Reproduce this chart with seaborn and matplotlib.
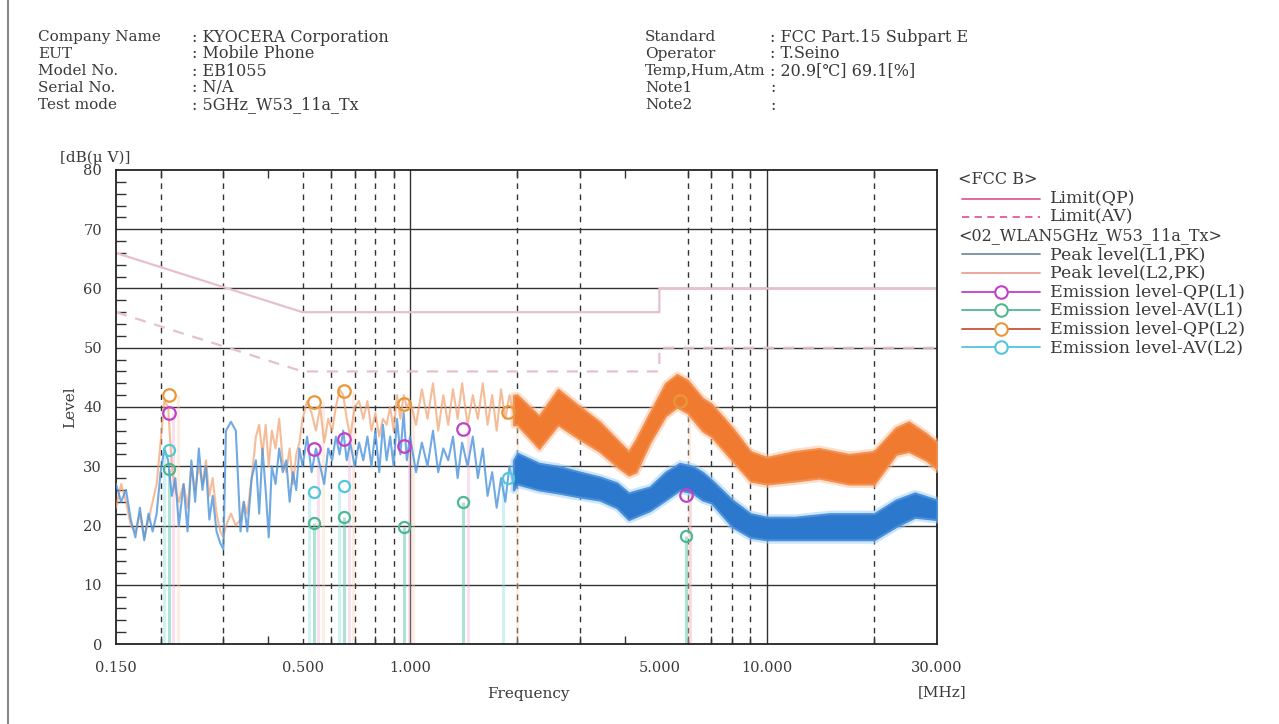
#! /usr/bin/env python3
'''
Conducted emission chart (FCC Part 15 B limits) for 5GHz W53 11a Tx
'''
import matplotlib
matplotlib.use("Agg")
import matplotlib.pyplot as plt
from matplotlib.lines import Line2D
from matplotlib.ticker import FixedLocator, NullFormatter
import seaborn as sns

# header info
HEAD_LEFT = [("Company Name", ": KYOCERA Corporation"), ("EUT", ": Mobile Phone"),
             ("Model No.", ": EB1055"), ("Serial No.", ": N/A"),
             ("Test mode", ": 5GHz_W53_11a_Tx")]
HEAD_RIGHT = [("Standard", ": FCC Part.15 Subpart E"), ("Operator", ": T.Seino"),
              ("Temp,Hum,Atm", ": 20.9[\u2103] 69.1[%]"), ("Note1", ":"), ("Note2", ":")]

# limits (MHz, dBuV)
LIM_F = [0.15, 0.5, 5.0, 5.0, 30.0]
LIM_QP = [66, 56, 56, 60, 60]
LIM_AV = [56, 46, 46, 50, 50]

# peak traces below 2 MHz (sparse sweep)
SUB_F = [0.150, 0.155, 0.160, 0.165, 0.170, 0.175, 0.180, 0.185, 0.190, 0.195, 0.200, 0.205,
         0.210, 0.215, 0.220, 0.225, 0.232, 0.238, 0.244, 0.250, 0.256, 0.262, 0.268, 0.274,
         0.280, 0.287, 0.294, 0.300, 0.305, 0.315, 0.325, 0.335, 0.342, 0.350, 0.360, 0.370,
         0.378, 0.386, 0.394, 0.402, 0.410, 0.420, 0.430, 0.440, 0.450, 0.460, 0.470, 0.480,
         0.490, 0.500, 0.515, 0.530, 0.545, 0.560, 0.575, 0.590, 0.605, 0.620, 0.635, 0.650,
         0.665, 0.680, 0.700, 0.720, 0.740, 0.760, 0.780, 0.800, 0.820, 0.840, 0.860, 0.880,
         0.900, 0.920, 0.940, 0.960, 0.980, 1.000, 1.04, 1.08, 1.12, 1.16, 1.20, 1.24, 1.28,
         1.32, 1.36, 1.40, 1.45, 1.50, 1.55, 1.60, 1.65, 1.70, 1.75, 1.80, 1.85, 1.90, 1.95]
SUB_L1 = [27, 24, 26, 21, 18, 23, 17.5, 22, 19, 22, 29, 33,
          31, 25, 28, 20, 27, 19, 31, 24, 33, 26, 30, 21,
          25, 19, 17, 16, 36, 37.5, 36, 19, 24, 19, 28, 31,
          22, 33, 26, 18, 30, 27, 33, 29, 31, 24, 29, 26,
          33, 30, 35, 29, 33, 30, 27, 33, 31, 35, 32, 36,
          31, 34, 30, 34, 31, 35, 30, 36, 29, 37, 31, 35,
          30, 38, 32, 39, 31, 35, 29, 34, 30, 36, 29, 33, 31,
          35, 28, 34, 30, 35, 28, 33, 25, 29, 23, 28, 24, 30, 27]
SUB_L2 = [23, 27, 24, 20, 19, 22, 18, 21, 24, 27, 34, 41,
          40, 30, 26, 24, 27, 23, 30, 26, 30, 27, 31, 25,
          28, 22, 19, 18, 20, 22, 20, 21, 24, 22, 28, 35,
          37, 32, 37, 30, 36, 33, 38, 31, 29, 33, 27, 32,
          34, 38, 41, 39, 36, 40, 34, 38, 36, 40, 43, 42,
          38, 35, 40, 41, 38, 41, 36, 39, 35, 38, 37, 40,
          36, 42, 38, 42, 40, 41, 37, 43, 38, 44, 36, 42, 37,
          43, 38, 44, 37, 42, 38, 44, 37, 42, 36, 43, 38, 42, 39]

# dense peak band 2-30 MHz (lower / upper envelope)
L1_BAND_F = [1.95, 2.0, 2.3, 2.6, 3.0, 3.4, 3.8, 4.1, 4.7, 5.2, 5.7, 6.2, 6.6, 7.0,
             8.0, 9.0, 10, 12, 15, 20, 23, 26, 30]
L1_LO = [26, 27, 26, 25.5, 24.8, 24.3, 23, 21, 22.5, 24.3, 26, 25.5, 24.3, 23.8,
         19.8, 18, 17.6, 17.6, 17.6, 17.6, 19.8, 21.4, 21]
L1_HI = [31, 32.2, 30.5, 30, 29, 28.2, 27.2, 25.5, 26.5, 29, 30.5, 30, 29, 27.7,
         24.3, 22, 21.4, 21.4, 22, 22, 24.3, 25.5, 24.3]
L2_BAND_F = [1.95, 2.0, 2.3, 2.6, 3.0, 3.4, 3.8, 4.1, 4.3, 4.7, 5.2, 5.6, 6.0, 6.6,
             7.0, 8.0, 9.0, 10, 12, 14, 17, 20, 23, 25, 28, 30]
L2_LO = [37, 37, 33, 37, 34.5, 32.5, 30, 28.5, 29, 34, 38.5, 40, 39, 36,
         35, 31, 27.5, 27, 27.5, 28, 27, 27, 32, 32.5, 31, 29.5]
L2_HI = [42, 42, 38.5, 43, 40, 37.5, 34.5, 32.5, 34.5, 39, 44, 45.5, 44.5, 41.5,
         40.5, 36.5, 32.5, 31.5, 32.5, 33, 32, 32.5, 36.5, 37.5, 35.5, 34]

# emission levels
QP_L1_F = [0.211, 0.538, 0.653, 0.962, 1.41, 5.93]
QP_L1 = [39.0, 32.9, 34.6, 33.4, 36.3, 25.2]
AV_L1_F = [0.211, 0.538, 0.653, 0.962, 1.41, 5.93]
AV_L1 = [29.5, 20.5, 21.5, 19.8, 23.9, 18.3]
QP_L2_F = [0.211, 0.538, 0.653, 0.962, 1.88, 5.7]
QP_L2 = [42.0, 40.8, 42.7, 40.5, 39.2, 41.0]
AV_L2_F = [0.211, 0.538, 0.653, 1.88]
AV_L2 = [32.7, 25.6, 26.6, 28.0]

X_TICKS = [0.15, 0.5, 1, 5, 10, 30]
X_LABELS = ["0.150", "0.500", "1.000", "5.000", "10.000", "30.000"]
GRID_DASHED = [0.2, 0.3, 0.5, 0.6, 0.7, 0.8, 0.9, 2, 3, 6, 7, 8, 9, 20]
GRID_SOLID = [1, 10]

W, H = 1279, 724
TXT = '#3a3a3a'

sns.set_theme(style="white")
plt.rcParams['font.family'] = ['DejaVu Serif']

fig = plt.figure(figsize=(W / 100, H / 100), dpi=100)
ax = fig.add_axes([116 / W, 1 - 644 / H, (937 - 116) / W, (644 - 170) / H])
ax.set_xscale('log')

# grid
for y in range(10, 80, 10):
    ax.axhline(y, color='#333333', lw=1.0, zorder=1)
for f in GRID_DASHED:
    ax.axvline(f, color='#333333', lw=1.0, ls=(0, (4, 4)), zorder=1)
for f in GRID_SOLID:
    ax.axvline(f, color='#333333', lw=1.0, zorder=1)

# limits
sns.lineplot(x=LIM_F, y=LIM_QP, ax=ax, estimator=None, sort=False, color='#e6c0ca', lw=1.6, zorder=2)
sns.lineplot(x=LIM_F, y=LIM_AV, ax=ax, estimator=None, sort=False, color='#e6c0ca', lw=1.6,
             dashes=False, linestyle=(0, (5, 4)), zorder=2)

# stems of the emission levels
ax.vlines(AV_L1_F, 0, AV_L1, colors='#5cc8a8', lw=2.2, alpha=0.5, zorder=2)
ax.vlines([f * 1.03 for f in QP_L1_F], 0, QP_L1, colors='#f0a8d0', lw=2.2, alpha=0.35, zorder=2)
ax.vlines([f * 0.97 for f in AV_L2_F], 0, AV_L2, colors='#8ee0e8', lw=2.2, alpha=0.4, zorder=2)
ax.vlines([f * 1.06 for f in QP_L2_F], 0, QP_L2, colors='#f8d0b0', lw=2.2, alpha=0.35, zorder=2)

# peak traces, sparse part
sns.lineplot(x=SUB_F, y=SUB_L2, ax=ax, estimator=None, sort=False, color='#f2a070', lw=1.5, alpha=0.7, zorder=3)
sns.lineplot(x=SUB_F, y=SUB_L1, ax=ax, estimator=None, sort=False, color='#4c94dc', lw=1.5, alpha=0.8, zorder=3)

# peak traces, dense part (soft halo + core)
ax.fill_between(L2_BAND_F, L2_LO, L2_HI, color='#f6a070', edgecolor='#f9c09a', lw=5, alpha=0.5, zorder=3)
ax.fill_between(L2_BAND_F, L2_LO, L2_HI, color='#f07a30', edgecolor='#f39050', lw=1.5, zorder=3)
ax.fill_between(L1_BAND_F, L1_LO, L1_HI, color='#5aa0e4', edgecolor='#9ccdf2', lw=5, alpha=0.5, zorder=3)
ax.fill_between(L1_BAND_F, L1_LO, L1_HI, color='#2b78cc', edgecolor='#4a90da', lw=1.5, zorder=3)

# emission markers
ax.plot(QP_L1_F, QP_L1, 'o', mfc='none', mec='#c040c8', ms=9, mew=1.6, zorder=5)
ax.plot(AV_L1_F, AV_L1, 'o', mfc='none', mec='#50b890', ms=8, mew=1.6, zorder=5)
ax.plot(QP_L2_F, QP_L2, 'o', mfc='none', mec='#e89838', ms=9, mew=1.6, zorder=5)
ax.plot(AV_L2_F, AV_L2, 'o', mfc='none', mec='#50c8d8', ms=8, mew=1.6, zorder=5)

# axes
ax.set_xlim(0.15, 30)
ax.set_ylim(0, 80)
ax.xaxis.set_major_locator(FixedLocator(X_TICKS))
ax.set_xticklabels(X_LABELS)
ax.xaxis.set_minor_locator(FixedLocator([0.2, 0.3, 0.4, 0.5, 0.6, 0.7, 0.8, 0.9,
                                         2, 3, 4, 5, 6, 7, 8, 9, 20]))
ax.xaxis.set_minor_formatter(NullFormatter())
ax.set_yticks(range(0, 81, 10))
ax.yaxis.set_minor_locator(FixedLocator(range(0, 81, 2)))
ax.tick_params(axis='x', which='major', length=0, pad=12, labelsize=10.5, labelcolor=TXT)
ax.tick_params(axis='x', which='minor', direction='in', length=6, width=1.0,
               bottom=True, top=True, color='#333333')
ax.tick_params(axis='y', which='major', length=0, pad=10, labelsize=10.5, labelcolor=TXT)
ax.tick_params(axis='y', which='minor', direction='in', length=7, width=1.0,
               left=True, color='#333333')
for s in ax.spines.values():
    s.set_color('#222222')
    s.set_linewidth(1.3)
    s.set_visible(True)
ax.set_xlabel("")
ax.set_ylabel("")

# header
def ftext(x, y, s, **kw):
    kw.setdefault('fontsize', 11.5)
    kw.setdefault('color', TXT)
    fig.text(x / W, 1 - y / H, s, va='center', **kw)

for i, (k, v) in enumerate(HEAD_LEFT):
    ftext(38, 37 + i * 17, k, fontsize=11)
    ftext(192, 37 + i * 17, v)
for i, (k, v) in enumerate(HEAD_RIGHT):
    ftext(645, 37 + i * 17, k, fontsize=11)
    ftext(770, 37 + i * 17, v)

ftext(60, 158, "[dB(\u03bc V)]", fontsize=11)
ftext(70, 407, "Level", rotation=90, ha='center', fontsize=11)
ftext(528, 694, "Frequency", ha='center', fontsize=11)
ftext(918, 692, "[MHz]", fontsize=11)

# legend
LEG = [("hdr", "<FCC B>", None), ("line", "Limit(QP)", '#e05a9a'), ("dash", "Limit(AV)", '#e05a9a'),
       ("hdr", "<02_WLAN5GHz_W53_11a_Tx>", None),
       ("line", "Peak level(L1,PK)", '#7090a8'), ("line", "Peak level(L2,PK)", '#e8a090'),
       ("mark", "Emission level-QP(L1)", '#c040c8'), ("mark", "Emission level-AV(L1)", '#50b890'),
       ("mark", "Emission level-QP(L2)", '#e89838'), ("mark", "Emission level-AV(L2)", '#50c8d8')]
line_cols = {"Emission level-QP(L2)": '#c85040'}
for i, (kind, label, col) in enumerate(LEG):
    y = 180 + i * 18.6
    if kind == "hdr":
        ftext(958, y, label)
        continue
    yy = 1 - y / H
    ls = (0, (4, 3)) if kind == "dash" else '-'
    lc = line_cols.get(label, col)
    fig.add_artist(Line2D([962 / W, 1040 / W], [yy, yy], color=lc, lw=1.3, ls=ls))
    if kind == "mark":
        fig.add_artist(Line2D([1001 / W], [yy], marker='o', mfc='white', mec=col, ms=9, mew=1.5))
    ftext(1050, y, label, fontsize=12.5)

# border
fig.add_artist(Line2D([8 / W, 8 / W], [0, 1], color='#888888', lw=1.5))

fig.savefig('out.png', dpi=100)
